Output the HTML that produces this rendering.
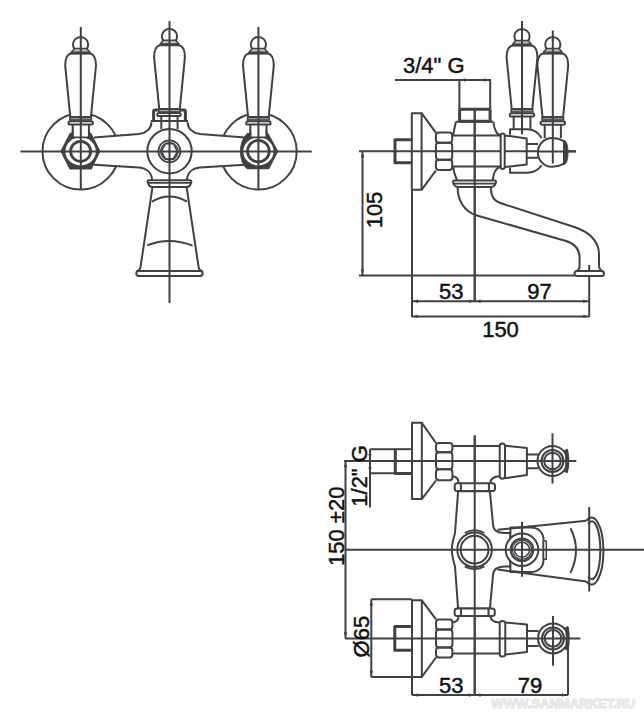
<!DOCTYPE html>
<html><head><meta charset="utf-8">
<style>
html,body{margin:0;padding:0;background:#fff;}
body{width:644px;height:717px;overflow:hidden;}
svg{display:block;}
text{font-family:"Liberation Sans",sans-serif;fill:#111;}
</style></head>
<body>
<svg width="644" height="717" viewBox="0 0 644 717">
<rect width="644" height="717" fill="#fff"/>


<g stroke="#404045" stroke-width="2" fill="none" stroke-linecap="butt" stroke-linejoin="round">

<!-- ================= FRONT VIEW ================= -->
<g id="front">
  <circle cx="80.7" cy="151.4" r="38.2"/>
  <circle cx="258.5" cy="151.4" r="38.2"/>
  <!-- arm fill -->
  <path fill="#fff" stroke="none" d="M94,137.4 L139,134 C147,133 151.4,128 151.4,122.3 L187.6,122.3 C187.6,128 192,133 200,134 L245,137.4 L245,164.7 L200,167.5 C191,168.5 187,174 187,180.3 L152,180.3 C152,174 148,168.5 139,167.5 L94,164.7 Z"/>
  <path d="M94,137.4 L139,134 C147,133 151.4,128 151.4,122.3 M187.6,122.3 C187.6,128 192,133 200,134 L245,137.4 M94,164.7 L139,167.5 C148,168.5 152,174 152,180.3 M187,180.3 C187,174 191,168.5 200,167.5 L245,164.7"/>
  <!-- center circle -->
  <circle cx="169.5" cy="151.2" r="22.2" fill="#fff"/>
  <circle cx="169.4" cy="151.3" r="11" stroke-width="1.7"/>
  <circle cx="169.4" cy="151.3" r="8.8" stroke-width="1.2"/>
  <path d="M161.3,151.3 L165.3,143.6 H173.5 L177.5,151.3 L173.5,159 H165.3 Z" stroke-width="1.8"/>
  <!-- center bracket -->
  <path d="M161.3,116 V129 M177.6,116 V129"/>
  <path d="M150.8,121 H188.1"/>
  <path d="M153.6,120.6 V111.6 Q153.6,110.1 155.2,110.1 H183.8 Q185.4,110.1 185.4,111.6 V120.6" stroke-width="3"/>
  <rect x="157.2" y="112.9" width="23.5" height="3.2" rx="1.6" fill="#fff"/>

  <!-- nuts -->
  <path d="M70.3,133.4 H90.9 L99.8,151.2 L91.2,168.9 H70 L61,151.2 Z" fill="#404045" stroke-width="1.2"/>
  <ellipse cx="80.6" cy="151.4" rx="15.2" ry="14.1" fill="#fff" stroke="none"/>
  <rect x="73.6" y="125" width="14.4" height="12" fill="#fff" stroke="none"/>
  <path d="M72.7,130 V137.6 M88.9,130 V137.6 M72.7,137.4 H88.9" stroke-width="1.8"/>
  <circle cx="80.6" cy="151.3" r="10" stroke-width="2.8"/>
  <path d="M247.5,133.6 H267.8 L277.6,151.2 L268.8,168.6 H247.2 C241.5,163.5 240.6,157 240.6,151.2 C240.6,145 242,139 247.5,133.6 Z" fill="#404045" stroke-width="1.2"/>
  <ellipse cx="258.4" cy="151.4" rx="15.1" ry="14.1" fill="#fff" stroke="none"/>
  <rect x="251.4" y="125" width="14.4" height="12" fill="#fff" stroke="none"/>
  <path d="M250.3,130 V137.6 M266.5,130 V137.6 M250.3,137.4 H266.5" stroke-width="1.8"/>
  <circle cx="258.4" cy="151.2" r="10.8" stroke-width="2.8"/>

  <!-- handles -->
  <path d="M72.7,125 V134 M88.9,125 V134 M250.3,125 V134 M266.5,125 V134"/>
  <rect x="68.5" y="121.2" width="24.4" height="3.4" rx="1.7" fill="#fff"/>
  <rect x="246.2" y="121.2" width="24.4" height="3.4" rx="1.7" fill="#fff"/>
  <g transform="translate(80.6,53.5)">
    <path fill="#fff" d="M-9.5,0 C-13.5,0.8 -15.4,5.5 -15.4,12 L-10.3,63.6 H10.3 L15.4,12 C15.4,5.5 13.5,0.8 9.5,0 Z"/>
    <rect x="-10.8" y="64" width="21.6" height="2.6" fill="#a8a8ac" stroke-width="1.5"/>
    <circle cx="0" cy="-9" r="7.6" fill="#fff"/>
    <path d="M-9.4,-1.2 L-6,-5 H6 L9.4,-1.2 Z" fill="#bcbcc0" stroke-width="1.5"/>
    <path d="M-10,-0.4 H10" stroke-width="2.2"/>
  </g>
  <g transform="translate(258.4,53.5)">
    <path fill="#fff" d="M-9.5,0 C-13.5,0.8 -15.4,5.5 -15.4,12 L-10.3,63.6 H10.3 L15.4,12 C15.4,5.5 13.5,0.8 9.5,0 Z"/>
    <rect x="-10.8" y="64" width="21.6" height="2.6" fill="#a8a8ac" stroke-width="1.5"/>
    <circle cx="0" cy="-9" r="7.6" fill="#fff"/>
    <path d="M-9.4,-1.2 L-6,-5 H6 L9.4,-1.2 Z" fill="#bcbcc0" stroke-width="1.5"/>
    <path d="M-10,-0.4 H10" stroke-width="2.2"/>
  </g>
  <g transform="translate(169.5,45.3)">
    <path fill="#fff" d="M-9.5,0 C-13.5,0.8 -15.4,5.5 -15.4,12 L-10.3,63.6 H10.3 L15.4,12 C15.4,5.5 13.5,0.8 9.5,0 Z"/>
    <rect x="-10.8" y="64" width="21.6" height="2.6" fill="#a8a8ac" stroke-width="1.5"/>
    <circle cx="0" cy="-9" r="7.6" fill="#fff"/>
    <path d="M-9.4,-1.2 L-6,-5 H6 L9.4,-1.2 Z" fill="#bcbcc0" stroke-width="1.5"/>
    <path d="M-10,-0.4 H10" stroke-width="2.2"/>
  </g>
  <!-- foot -->
  <path d="M152.5,187 L140.6,266.5 C140.2,269.5 138.5,271 136.5,271.2 M186.6,187 L198.5,266.5 C198.9,269.5 200.5,271 202.5,271.2"/>
  <rect x="136.3" y="271.1" width="66.4" height="4.8" rx="2.4" fill="#fff"/>
  <path d="M149.2,180.3 H189.8 Q191.8,180.3 191.3,182.2 Q190,187 186.6,187.1 H152.4 Q149,187 147.7,182.2 Q147.2,180.3 149.2,180.3 Z" fill="#fff"/>
  <path d="M148,182.9 H191" stroke-width="1.7"/>
  <path d="M152,201.6 Q169.5,191.4 187,201.6 M147.3,245.3 Q169.5,236.5 192.6,245.6"/>

  <!-- centerlines -->
  <path d="M20.5,151.4 H311.7 M80.8,27 V189.6 M169.5,21 V303 M258.4,27 V189.6"/>
</g>

<!-- ================= SIDE VIEW ================= -->
<g id="side">
  <!-- dims -->
  <path d="M359,151.2 H576 M362.5,151.2 V275.4 M359,275.4 H574.5 M412,189.8 V317 M474.7,109 V302 M589.2,265 V317 M412,301.3 H589.2 M412,316.4 H589.2 M395,80 H491 M459.4,80 V109 M490.2,80 V109"/>
  <!-- spout -->
  <path d="M457.6,187 C457.6,200 464,211.5 476,215.2 L565.1,240.8 C575,243.5 579.6,250 579.6,258 V266.6 Q579.6,269.8 575.8,271.6"/>
  <path d="M490.9,187 C490.9,196 493.5,201.5 502.6,203.8 L575,227.3 C590,232.3 599,242 599,254 V265.3 Q599,269.5 603,271.6"/>
  <rect x="574.5" y="271" width="29.5" height="5" rx="2.5" fill="#fff"/>
  <!-- flange+stub -->
  <path d="M411.8,139.8 H395 V162.8 H411.8" stroke-width="3"/>
  <rect x="411.8" y="113.2" width="9.8" height="76.6"/>
  <path d="M421.6,113.2 L435.8,132.6 M421.6,189.8 L435.8,170.7"/>
  <!-- nut -->
  <rect x="435.9" y="132.6" width="16.3" height="10.1" rx="3"/>
  <rect x="435.9" y="142.7" width="16.3" height="17.1" rx="3"/>
  <rect x="435.9" y="159.8" width="16.3" height="10.1" rx="3"/>
  <!-- body -->
  <path d="M459.6,109.3 H490.1 M459.6,121.2 H490.1 M459.6,109.3 V121.2 M490.1,109.3 V121.2" stroke-width="3"/>
  <path d="M455.6,121.8 H493.4"/>
  <path d="M455.8,122 C455,127 453.6,131 453.2,135.5 M453.2,166.5 C453.6,171 455,176 457,180.2 M493.4,122 C494,129 497,135 501,135.5 M501,166.5 C497,167.5 493.5,172 492.7,180.2"/>
  <path d="M452.2,135.5 H501 M452.2,166.5 H501"/>
  <rect x="500.7" y="133.6" width="4" height="35.4" rx="2" fill="#fff"/>
  <path d="M504.7,135.4 L526.7,138.5 V164.6 L504.7,167.1"/>
  <path d="M526.7,144.1 H538 M526.7,157.8 H538"/>
  <path d="M454.5,180.6 H494.6 Q496.4,180.6 496,182.2 Q494.8,186.9 491.2,186.9 H457.9 Q454.3,186.9 453.1,182.2 Q452.7,180.6 454.5,180.6 Z" fill="#fff"/>
  <path d="M453.6,183.6 H495.5" stroke-width="1.6"/>
  <!-- bonnet -->
  <path d="M510,134.8 V129.2 H526.7 C533,129.2 538.5,132.5 541.6,137.9 M510,167.4 V172.7 H526.7 C533,172.7 538.5,169.8 541.6,165.2"/>
  <!-- ball -->
  <path d="M564,141.2 C560.5,139.2 556.5,138 552,138 C544.2,138 537.9,144.4 537.9,152.4 C537.9,160.4 544.2,166.8 552,166.8 C556.5,166.8 560.5,165.6 564,163.6 Z" fill="#fff"/>
  <path d="M563.8,140.2 C567,141 568,147 568,152.4 C568,158 567,163.8 563.8,164.6 Z" fill="#404045" stroke-width="1"/>
  <!-- handle 2 (far) -->
  <path d="M544.7,124.9 V138 M560.9,124.9 V138"/>
  <rect x="540.6" y="121.3" width="24.4" height="3.4" rx="1.7" fill="#fff"/>
  <g transform="translate(552.8,53.5)">
    <path fill="#fff" d="M-9.5,0 C-13.5,0.8 -15.4,5.5 -15.4,12 L-10.3,63.6 H10.3 L15.4,12 C15.4,5.5 13.5,0.8 9.5,0 Z"/>
    <rect x="-10.8" y="64" width="21.6" height="2.6" fill="#a8a8ac" stroke-width="1.5"/>
    <circle cx="0" cy="-9" r="7.6" fill="#fff"/>
    <path d="M-9.4,-1.2 L-6,-5 H6 L9.4,-1.2 Z" fill="#bcbcc0" stroke-width="1.5"/>
    <path d="M-10,-0.4 H10" stroke-width="2.2"/>
  </g>
  <!-- handle 1 (near) -->
  <path d="M513.7,116.2 V129.2 M530.4,116.2 V129.2"/>
  <rect x="509.8" y="113.2" width="24.4" height="3.4" rx="1.7" fill="#fff"/>
  <g transform="translate(522,45.5)">
    <path fill="#fff" d="M-9.5,0 C-13.5,0.8 -15.4,5.5 -15.4,12 L-10.3,63.6 H10.3 L15.4,12 C15.4,5.5 13.5,0.8 9.5,0 Z"/>
    <rect x="-10.8" y="64" width="21.6" height="2.6" fill="#a8a8ac" stroke-width="1.5"/>
    <circle cx="0" cy="-9" r="7.6" fill="#fff"/>
    <path d="M-9.4,-1.2 L-6,-5 H6 L9.4,-1.2 Z" fill="#bcbcc0" stroke-width="1.5"/>
    <path d="M-10,-0.4 H10" stroke-width="2.2"/>
  </g>
  <!-- centerlines -->
  <path d="M522,21 V134.2 M552.8,30.6 V163.4 M537.9,151.6 H576 M474.7,109.3 V302"/>
</g>

<!-- ================= TOP VIEW ================= -->
<g id="top">
  <!-- dims -->
  <path d="M345.5,461 V638.5 M474.7,435.5 V695 M412,677 V695 M568,627 V695 M412,695 H568"/>
  <path d="M370,449.2 V507.6 M370,449.2 H394 M370,473.2 H394"/>
  <path d="M371.3,599.3 V677 M371.3,599.3 H412 M371.3,677 H412"/>
  <!-- body -->
  <path fill="#fff" d="M458.1,491.3 L455,533 C453,540 451.8,545 451.8,549.7 C451.8,554.5 453,559.5 455,566.5 L458.1,608.4 H489.9 L493,575.4 C493,569.4 497,566.4 505,566.4 H510.4 V533 H505 C497,533 493,530 493,524 L489.9,491.3 Z"/>
  <circle cx="474.6" cy="549.7" r="17.3"/>
  <circle cx="474.6" cy="549.7" r="13.9"/>
  <path d="M464.8,533 A19.5,19.5 0 0 1 484.4,533 M464.8,566.4 A19.5,19.5 0 0 0 484.4,566.4" stroke-width="1.8"/>
  <!-- upper pipe -->
  <rect x="412" y="422.8" width="9.8" height="76.3"/>
  <path d="M421.8,422.8 L436,443 M421.8,499.1 L436,480.5"/>
  <path d="M394,449.2 H412"/>
  <path d="M395.3,449.2 V473.4 H412" stroke-width="3"/>
  <rect x="436" y="443" width="16.4" height="9.3" rx="3"/>
  <rect x="436" y="452.3" width="16.4" height="17" rx="3"/>
  <rect x="436" y="469.3" width="16.4" height="10.9" rx="3"/>
  <path d="M452.4,446 H499.7 M452.4,476.3 C456.5,476.5 458.6,479.5 458.6,483.3 M490.4,483.3 C490.4,479.5 493,476.5 499.7,476.3"/>
  <rect x="454.7" y="483.3" width="40.3" height="7.8" rx="2.5" fill="#fff"/>
  <path d="M460.9,483.3 V491.1 M488.9,483.3 V491.1"/>
  <rect x="499.7" y="443.5" width="5.3" height="35.2" rx="2.6" fill="#fff"/>
  <path d="M505,445.7 L526.9,447.9 V475 L505,478.2 M526.9,454.4 H538.5 M526.9,468.2 H538.5"/>
  <circle cx="552.5" cy="461" r="15" fill="#fff"/>
  <circle cx="552.5" cy="461" r="11"/>
  <circle cx="552.5" cy="461" r="8.3"/>
  <path d="M565.6,449.5 C567.8,454 567.8,468 565.6,472.5" stroke-width="4"/>
  <!-- lower pipe -->
  <rect x="412" y="600.3" width="9.8" height="76.6"/>
  <path d="M421.8,600.3 L436,619.4 M421.8,676.9 L436,657.5"/>
  <path d="M412,626.5 H394.8 V650.2 H412" stroke-width="3"/>
  <rect x="436" y="619.4" width="16.4" height="10.1" rx="3"/>
  <rect x="436" y="629.5" width="16.4" height="17.9" rx="3"/>
  <rect x="436" y="647.4" width="16.4" height="10.1" rx="3"/>
  <path d="M452.4,653.6 H499.7 M452.4,622.5 C456.5,622.3 458.6,619.3 458.6,615.5 M490.4,615.5 C490.4,619.3 493,622.3 499.7,622.5"/>
  <rect x="454.6" y="608.6" width="40.2" height="7.5" rx="2.5" fill="#fff"/>
  <path d="M461,608.6 V616.1 M488.5,608.6 V616.1"/>
  <rect x="499.7" y="621" width="5.6" height="35.6" rx="2.6" fill="#fff"/>
  <path d="M505.3,622.5 L527,624.5 V652 L505.3,654.5 M527,631 H538.5 M527,645.9 H538.5"/>
  <circle cx="553" cy="638.4" r="15" fill="#fff"/>
  <circle cx="553" cy="638.4" r="11"/>
  <circle cx="553" cy="638.4" r="8.3"/>
  <path d="M566.1,627 C568.3,631.5 568.3,645.5 566.1,650" stroke-width="4"/>
  <!-- lever -->
  <path fill="#fff" stroke="none" d="M510.4,528.5 L586.3,520.8 L591,581.4 L510.4,570.9 Z"/>
  <path d="M497.5,529.8 L586.3,520.8 M497.5,569.6 L586.3,581.4"/>
  <path d="M586.3,520.8 A12,33.5 0 1 1 586.3,581.4"/>
  <path d="M588.2,524 A8.5,29 0 1 1 588.2,576.5"/>
  <path d="M570.5,528.3 Q581.5,549.7 570.5,573"/>
  <!-- boss -->
  <path fill="#fff" d="M510.4,527.5 H531 C538.5,527.5 543.5,532.5 543.5,539.5 V560 C543.5,567 538.5,572 531,572 H510.4 Z"/>
  <path d="M510.4,528.5 L531,526.4 M510.4,570.9 L531,573"/>
  <rect x="543.5" y="541" width="2.8" height="18.3" stroke-width="1.5" fill="#fff"/>
  <circle cx="522" cy="549.7" r="16.3" fill="#fff"/>
  <circle cx="522" cy="549.7" r="11.3"/>
  <circle cx="522" cy="549.7" r="9.6" stroke-width="1.3"/>
  <circle cx="522" cy="549.7" r="7.5" stroke-width="1.5"/>
  <!-- centerlines -->
  <path d="M344,461 H576.3 M345.3,638.5 H580.4 M345.5,549.7 H644 M552.5,433.3 V483.6 M553,616 V665.8 M522,521.8 V576.7 M589.2,507 V591.6 M474.7,435.5 V695"/>
</g>
<path fill="#404045" stroke="none" d="M412.8,301.3 L418.0,299.6 V303.0 Z M474.0,301.3 L468.8,299.6 V303.0 Z M475.4,301.3 L480.6,299.6 V303.0 Z M588.4,301.3 L583.2,299.6 V303.0 Z M412.8,316.4 L418.0,314.7 V318.1 Z M588.4,316.4 L583.2,314.7 V318.1 Z M362.5,152.2 L360.8,157.4 H364.2 Z M362.5,274.4 L360.8,269.2 H364.2 Z M460.2,80.0 L465.4,78.3 V81.7 Z M489.4,80.0 L484.2,78.3 V81.7 Z M412.8,695.0 L418.0,693.3 V696.7 Z M474.0,695.0 L468.8,693.3 V696.7 Z M475.4,695.0 L480.6,693.3 V696.7 Z M567.2,695.0 L562.0,693.3 V696.7 Z M345.5,462.0 L343.8,467.2 H347.2 Z M345.5,637.5 L343.8,632.3 H347.2 Z M370.0,450.2 L368.3,455.4 H371.7 Z M370.0,472.4 L368.3,467.2 H371.7 Z M371.3,600.3 L369.6,605.5 H373.0 Z M371.3,676.0 L369.6,670.8 H373.0 Z"/>
</g>

<!-- TEXT -->
<g font-size="22" stroke="#111" stroke-width="0.45">
  <text x="433.8" y="73.1" text-anchor="middle">3/4" G</text>
  <text transform="translate(382,210) rotate(-90)" text-anchor="middle">105</text>
  <text x="451.3" y="299" text-anchor="middle">53</text>
  <text x="539.5" y="299" text-anchor="middle">97</text>
  <text x="500.5" y="337.2" text-anchor="middle">150</text>
  <text transform="translate(366.5,475.9) rotate(-90)" text-anchor="middle">1/2" G</text>
  <text transform="translate(343.5,526.3) rotate(-90)" text-anchor="middle">150 ±20</text>
  <text transform="translate(369.3,636.6) rotate(-90)" text-anchor="middle">Ø65</text>
  <text x="451.3" y="692.6" text-anchor="middle">53</text>
  <text x="530.1" y="692.6" text-anchor="middle">79</text>
  <text x="491.5" y="707.6" font-size="12" font-weight="bold" textLength="144" lengthAdjust="spacingAndGlyphs" stroke="#e2e2e2" stroke-width="0.9" style="fill:#f7f7f7">WWW.SANMARKET.RU</text>
</g>
</svg>
</body></html>
